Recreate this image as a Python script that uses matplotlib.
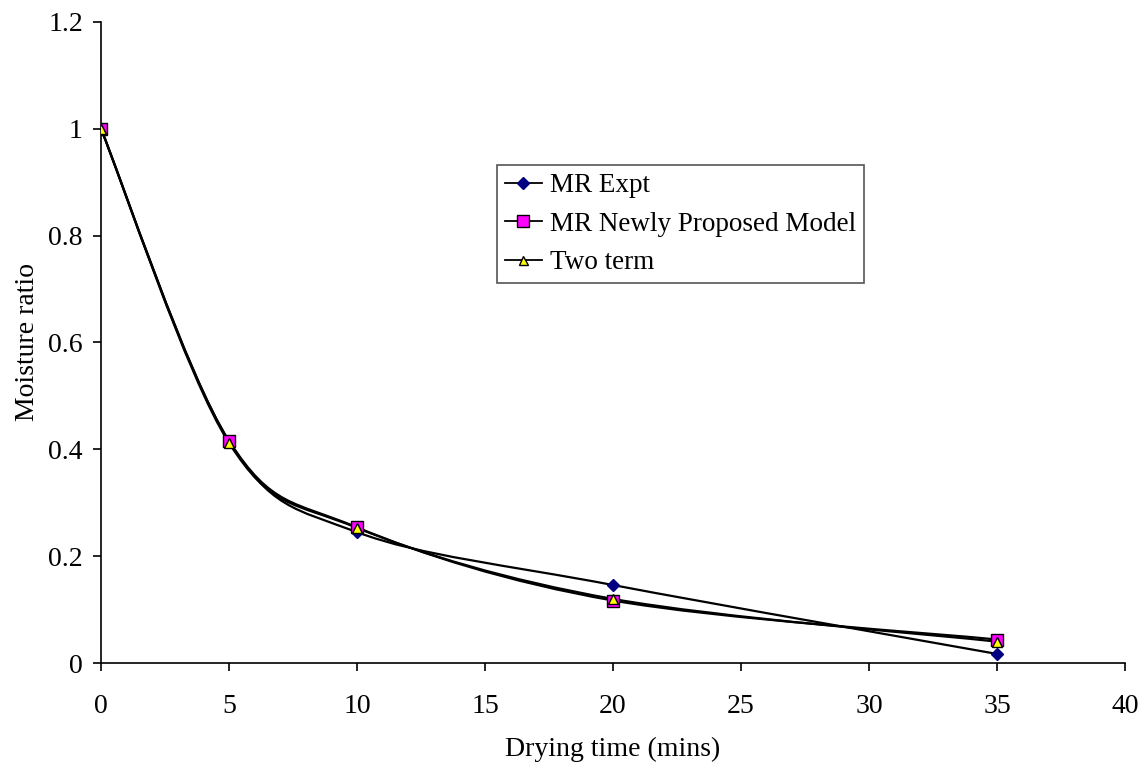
import numpy as np
import matplotlib.pyplot as plt
from matplotlib.path import Path
from matplotlib.patches import PathPatch
from matplotlib.lines import Line2D

plt.rcParams['font.family'] = ['Liberation Serif', 'DejaVu Serif']

time_min = [0, 5, 10, 20, 35]
mr_expt = [1.0, 0.415, 0.245, 0.146, 0.017]
mr_model = [1.0, 0.416, 0.254, 0.117, 0.044]
mr_two_term = [1.0, 0.412, 0.253, 0.120, 0.040]

labels = ['MR Expt', 'MR Newly Proposed Model', 'Two term']


def smooth_path(x, y):
    # Excel-like smoothed line: cubic Bezier segments through each point
    pts = np.column_stack([x, y]).astype(float)
    n = len(pts)
    verts = [pts[0]]
    codes = [Path.MOVETO]
    for i in range(n - 1):
        p0 = pts[i - 1] if i > 0 else pts[i]
        p1 = pts[i]
        p2 = pts[i + 1]
        p3 = pts[i + 2] if i + 2 < n else pts[i + 1]
        c1 = p1 + (p2 - p0) / 6.0
        c2 = p2 - (p3 - p1) / 6.0
        verts += [c1, c2, p2]
        codes += [Path.CURVE4] * 3
    return Path(verts, codes)


fig = plt.figure(figsize=(11.4, 7.68), dpi=100)
ax = fig.add_axes([0.0886, 0.1367, 0.8982, 0.8347])

series = [
    (mr_expt, 'D', '#000080', '#000080', 6.3),
    (mr_model, 's', '#FF00FF', 'black', 8.8),
    (mr_two_term, '^', '#FFFF00', 'black', 7.2),
]

handles = []
for (vals, mk, fc, ec, ms), lab in zip(series, labels):
    ax.add_patch(PathPatch(smooth_path(time_min, vals), fill=False,
                           edgecolor='black', lw=1.6, zorder=2))
    ax.plot(time_min, vals, ls='none', marker=mk, ms=ms, mfc=fc, mec=ec,
            mew=1.0, zorder=3)
    handles.append(Line2D([], [], color='black', lw=1.3, marker=mk,
                          ms=ms * 0.9, mfc=fc, mec=ec, mew=1.0, label=lab))

ax.set_xlim(0, 40)
ax.set_ylim(0, 1.2)
ax.set_xticks(range(0, 41, 5))
ax.set_yticks([0, 0.2, 0.4, 0.6, 0.8, 1.0, 1.2])
ax.set_yticklabels(['0', '0.2', '0.4', '0.6', '0.8', '1', '1.2'])
ax.tick_params(direction='out', length=6, width=1.2, labelsize=20)
ax.tick_params(axis='x', pad=16.5)
ax.tick_params(axis='y', pad=7)
for side in ['top', 'right']:
    ax.spines[side].set_visible(False)
for side in ['left', 'bottom']:
    ax.spines[side].set_linewidth(1.2)

ax.set_xlabel('Drying time (mins)', fontsize=20, labelpad=12.5)
ax.set_ylabel('Moisture ratio', fontsize=20, labelpad=6)

leg = ax.legend(handles=handles, loc='upper left',
                bbox_to_anchor=(497 / 1140, 1 - 165 / 768),
                bbox_transform=fig.transFigure, fontsize=19.5, frameon=True,
                fancybox=False, edgecolor='#555555', framealpha=1,
                handlelength=1.35, handletextpad=0.3, borderpad=0.3,
                labelspacing=0.5, borderaxespad=0)
leg.get_frame().set_linewidth(1.2)

fig.savefig('out.png', dpi=100)
